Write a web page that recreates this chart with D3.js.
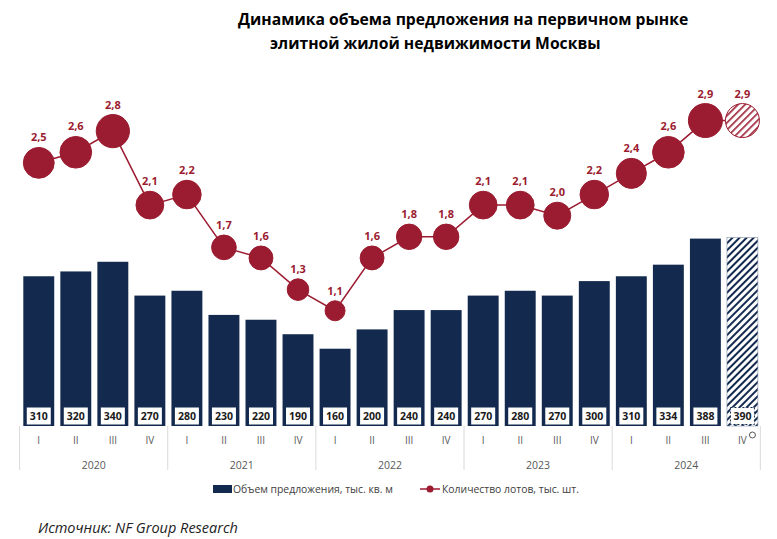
<!DOCTYPE html>
<html><head><meta charset="utf-8">
<script src="https://cdn.jsdelivr.net/npm/d3@7"></script>
<style>body{margin:0;background:#fff}svg{display:block}</style>
</head><body>
<script>
const quarters = ["I","II","III","IV","I","II","III","IV","I","II","III","IV","I","II","III","IV","I","II","III","IV"];
const years = ["2020","2021","2022","2023","2024"];
const volume = [310,320,340,270,280,230,220,190,160,200,240,240,270,280,270,300,310,334,388,390];
const lots = [2.5,2.6,2.8,2.1,2.2,1.7,1.6,1.3,1.1,1.6,1.8,1.8,2.1,2.1,2.0,2.2,2.4,2.6,2.9,2.9];
const forecast = [false,false,false,false,false,false,false,false,false,false,false,false,false,false,false,false,false,false,false,true];
const titleLines = ["Динамика объема предложения на первичном рынке","элитной жилой недвижимости Москвы"];
const legendLabels = ["Объем предложения, тыс. кв. м","Количество лотов, тыс. шт."];
const sourceText = "Источник: NF Group Research";

const W=777,H=539;
const NAVY="#132a4e", RED="#9b1b30", GRAY="#595959";
const font="'Open Sans', 'Segoe UI', sans-serif";
const svg=d3.select("body").append("svg").attr("width",W).attr("height",H).style("font-family",font);
const defs=svg.append("defs");
const pb=defs.append("pattern").attr("id","hatchNavy").attr("patternUnits","userSpaceOnUse").attr("width",5).attr("height",5).attr("patternTransform","rotate(45)");
pb.append("rect").attr("width",5).attr("height",5).attr("fill","#fff");
pb.append("rect").attr("width",2).attr("height",5).attr("fill",NAVY);
const pr=defs.append("pattern").attr("id","hatchRed").attr("patternUnits","userSpaceOnUse").attr("width",5).attr("height",5).attr("patternTransform","rotate(45)");
pr.append("rect").attr("width",5).attr("height",5).attr("fill","#fff");
pr.append("rect").attr("width",1.6).attr("height",5).attr("fill",RED);

const idx=d3.range(volume.length);
const x=d3.scaleBand().domain(idx).range([19.6,761.6]).paddingInner(0.165).paddingOuter(0.1);
const yBar=d3.scaleLinear().domain([0,400]).range([426,232.8]);
const yLine=d3.scaleLinear().domain([0,3]).range([427,110]);
const r=d3.scaleLinear().domain([1.1,2.9]).range([10,17]);

// title
svg.append("text").attr("x",238).attr("y",25).attr("font-size",15.7).attr("font-weight","bold").attr("fill","#000").text(titleLines[0]);
svg.append("text").attr("x",270).attr("y",49).attr("font-size",15.7).attr("font-weight","bold").attr("fill","#000").text(titleLines[1]);

// bars
svg.append("g").selectAll("rect").data(idx).join("rect")
  .attr("x",i=>x(i)).attr("width",x.bandwidth())
  .attr("y",i=>yBar(volume[i])).attr("height",i=>yBar(0)-yBar(volume[i]))
  .attr("fill",i=>forecast[i]?"url(#hatchNavy)":NAVY)
  .attr("stroke",i=>forecast[i]?"#8090a8":"none").attr("stroke-width",0.6);

// bar labels
const bl=svg.append("g").selectAll("g").data(idx).join("g");
bl.append("rect").attr("x",i=>x(i)+x.bandwidth()/2-12).attr("y",407.5).attr("width",24).attr("height",17)
  .attr("fill","#fff").attr("stroke",i=>forecast[i]?NAVY:"none").attr("stroke-dasharray","2,2").attr("stroke-width",1);
bl.append("text").attr("x",i=>x(i)+x.bandwidth()/2).attr("y",420.3).attr("text-anchor","middle")
  .attr("font-size",10.5).attr("font-weight","bold").attr("fill","#1a1a1a").text(i=>volume[i]);

// axis
const ax=svg.append("g");
const step=x.step();
for(let k=0;k<=years.length;k++){
  const xx=19.6+k*4*step;
  ax.append("line").attr("x1",xx).attr("x2",xx).attr("y1",426).attr("y2",470).attr("stroke","#d9d9d9").attr("stroke-width",1);
}
ax.selectAll("text.q").data(idx).join("text").attr("class","q")
  .attr("x",i=>x(i)+x.bandwidth()/2).attr("y",444).attr("text-anchor","middle")
  .attr("font-size",10).attr("fill",GRAY).text(i=>quarters[i]);
ax.selectAll("text.y").data(years).join("text").attr("class","y")
  .attr("x",(d,k)=>19.6+(k*4+2)*step).attr("y",469).attr("text-anchor","middle")
  .attr("font-size",10.5).attr("fill",GRAY).text(d=>d);
// footnote marker
const li=idx[idx.length-1];
ax.append("circle").attr("cx",x(li)+x.bandwidth()/2+10).attr("cy",435).attr("r",3).attr("fill","none").attr("stroke","#555").attr("stroke-width",1);

// line
const cx=i=>x(i)+x.bandwidth()/2;
svg.append("path").datum(idx).attr("fill","none").attr("stroke",RED).attr("stroke-width",1.5)
  .attr("d",d3.line().x(i=>cx(i)).y(i=>yLine(lots[i])));
svg.append("g").selectAll("circle").data(idx).join("circle")
  .attr("cx",cx).attr("cy",i=>yLine(lots[i])).attr("r",i=>r(lots[i]))
  .attr("fill",i=>forecast[i]?"url(#hatchRed)":RED).attr("stroke",RED).attr("stroke-width",1);
svg.append("g").selectAll("text").data(idx).join("text")
  .attr("x",cx).attr("y",i=>yLine(lots[i])-r(lots[i])-6).attr("text-anchor","middle")
  .attr("font-size",11).attr("font-weight","bold").attr("fill",RED)
  .text(i=>d3.format(".1f")(lots[i]).replace(".",","));

// legend
svg.append("rect").attr("x",213).attr("y",485).attr("width",19).attr("height",8).attr("fill",NAVY);
svg.append("text").attr("x",233).attr("y",493).attr("font-size",10.4).attr("fill","#404040").text(legendLabels[0]);
svg.append("line").attr("x1",420).attr("x2",440).attr("y1",489).attr("y2",489).attr("stroke",RED).attr("stroke-width",1.5);
svg.append("circle").attr("cx",430).attr("cy",489).attr("r",3.5).attr("fill",RED);
svg.append("text").attr("x",442).attr("y",493).attr("font-size",10.4).attr("fill","#404040").text(legendLabels[1]);

// source
svg.append("text").attr("x",38).attr("y",533).attr("font-size",14.5).attr("font-style","italic").attr("fill","#222").text(sourceText);
</script>
</body></html>
